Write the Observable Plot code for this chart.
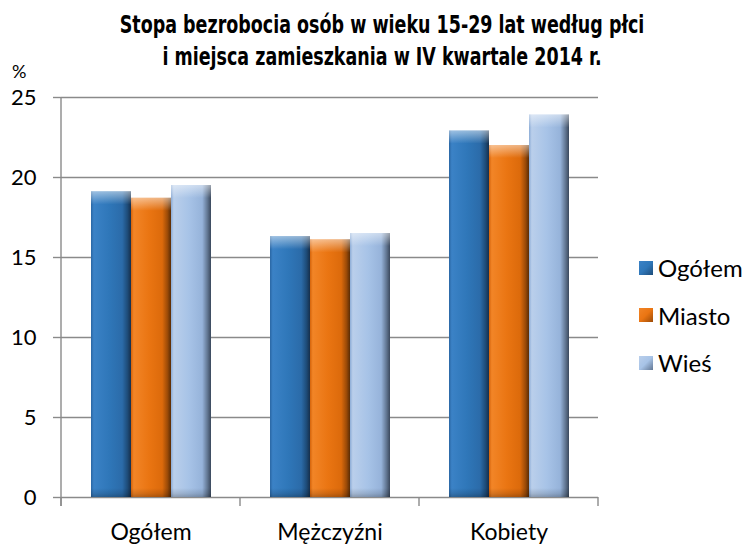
<!DOCTYPE html>
<html>
<head>
<meta charset="utf-8">
<script src="https://cdn.jsdelivr.net/npm/d3@7"></script>
<script src="https://cdn.jsdelivr.net/npm/@observablehq/plot@0.6"></script>
<style>
  html, body { margin: 0; padding: 0; background: #fff; }
  #wrap { position: relative; width: 746px; height: 545px; overflow: hidden; font-family: Lato, "Open Sans", sans-serif; }
  #title { position: absolute; left: 9px; top: 9px; width: 746px; text-align: center;
    font-family: "DejaVu Sans Condensed", "Liberation Sans Narrow", sans-serif;
    font-weight: bold; font-size: 24px; line-height: 32px; color: #000;
    transform: scaleX(0.81); transform-origin: 373px 0; }
  #unit { position: absolute; left: 12px; top: 60px; font-size: 18px; color: #000; }
  #chart { position: absolute; left: 0; top: 62px; }
  #legend { position: absolute; left: 639px; top: 244px; font-size: 24px; color: #000; }
  .li { display: flex; align-items: center; height: 47.5px; }
  .sw { width: 14px; height: 14px; margin-right: 5px; }
</style>
</head>
<body>
<div id="wrap">
  <div id="title">Stopa bezrobocia osób w wieku 15-29 lat według płci<br>i miejsca zamieszkania w IV kwartale 2014 r.</div>
  <div id="unit">%</div>
  <div id="chart"></div>
  <div id="legend"></div>
</div>
<script>
const categories = ["Ogółem", "Mężczyźni", "Kobiety"];
const series = ["Ogółem", "Miasto", "Wieś"];
const ogolem = [19.1, 16.3, 22.9];
const miasto = [18.7, 16.1, 22.0];
const wies = [19.5, 16.5, 23.9];
const yTicks = [0, 5, 10, 15, 20, 25];

const seriesValues = [ogolem, miasto, wies];
const data = [];
categories.forEach((c, i) => {
  series.forEach((s, j) => data.push({category: c, series: s, value: seriesValues[j][i]}));
});

const gradStops = [
  // Ogółem (blue)
  [["0%", "#2A66A3"], ["7%", "#3B82C6"], ["45%", "#2F77B9"], ["78%", "#2B6BA9"], ["91%", "#1E4C79"], ["100%", "#162F4C"]],
  // Miasto (orange)
  [["0%", "#D4630A"], ["7%", "#F28527"], ["45%", "#EA7512"], ["78%", "#DC6A0B"], ["91%", "#9C4B08"], ["100%", "#5A2C05"]],
  // Wieś (light blue)
  [["0%", "#8CACD6"], ["7%", "#BACFEB"], ["45%", "#A7C3E7"], ["78%", "#96B3DA"], ["91%", "#627793"], ["100%", "#3A485C"]]
];
const gradIds = ["gOg", "gMi", "gWi"];

const chart = Plot.plot({
  width: 746,
  height: 483,
  marginTop: 35,
  marginBottom: 48,
  marginLeft: 61,
  marginRight: 148,
  style: {fontFamily: "Lato, 'Open Sans', sans-serif", fontSize: "22px", color: "#000", background: "transparent"},
  fx: {domain: categories, padding: 0, label: null},
  x: {domain: series, paddingInner: 0, paddingOuter: 0.7375, axis: null},
  y: {domain: [0, 25], label: null},
  color: {domain: series, range: gradIds.map(id => `url(#${id})`)},
  marks: [
    Plot.gridY(yTicks, {stroke: "#8a8a8a", strokeOpacity: 1, strokeWidth: 1.4}),
    Plot.axisY(yTicks, {tickSize: 8, tickPadding: 17, stroke: "#8a8a8a", strokeWidth: 1.4, fill: "#000", fontSize: 22, label: null}),
    Plot.axisFx({anchor: "bottom", tickSize: 0, tickPadding: 26, fontSize: 23, fill: "#000", label: null}),
    Plot.barY(data, {fx: "category", x: "series", y: "value", fill: "series"}),
    // top bevel highlight (cap at bar top)
    Plot.barY(data, {fx: "category", x: "series", y1: "value", y2: "value", insetBottom: -13, fill: "url(#capTop)"}),
    // bottom bevel shade
    Plot.barY(data, {fx: "category", x: "series", y1: 0, y2: 0, insetTop: -9, fill: "url(#capBot)"})
  ]
});

document.getElementById("chart").appendChild(chart);

// gradients
const svg = d3.select(chart);
const defs = svg.insert("defs", ":first-child");
gradIds.forEach((id, i) => {
  const g = defs.append("linearGradient").attr("id", id).attr("x1", "0").attr("x2", "1").attr("y1", "0").attr("y2", "0");
  gradStops[i].forEach(([o, c]) => g.append("stop").attr("offset", o).attr("stop-color", c));
});
const ct = defs.append("linearGradient").attr("id", "capTop").attr("x1", "0").attr("x2", "0").attr("y1", "0").attr("y2", "1");
[["0%", "#ffffff", 0.5], ["60%", "#ffffff", 0.2], ["100%", "#ffffff", 0]]
  .forEach(([o, c, a]) => ct.append("stop").attr("offset", o).attr("stop-color", c).attr("stop-opacity", a));
const cb = defs.append("linearGradient").attr("id", "capBot").attr("x1", "0").attr("x2", "0").attr("y1", "0").attr("y2", "1");
[["0%", "#000000", 0], ["60%", "#000000", 0.12], ["100%", "#000000", 0.25]]
  .forEach(([o, c, a]) => cb.append("stop").attr("offset", o).attr("stop-color", c).attr("stop-opacity", a));

// axis line and category boundary ticks, positioned with Plot's scales
const fx = chart.scale("fx");
const y = chart.scale("y");
const y0 = y.apply(0), yTop = y.apply(25);
const bounds = categories.map(c => fx.apply(c)).concat([fx.apply(categories[categories.length - 1]) + fx.bandwidth]);
const g = svg.append("g").attr("stroke", "#8a8a8a").attr("stroke-width", 1.4);
g.append("line").attr("x1", bounds[0]).attr("x2", bounds[0]).attr("y1", yTop).attr("y2", y0 + 9);
bounds.forEach(b => g.append("line").attr("x1", b).attr("x2", b).attr("y1", y0).attr("y2", y0 + 9));

// legend
const legend = d3.select("#legend");
series.forEach((s, i) => {
  const row = legend.append("div").attr("class", "li");
  const st = gradStops[i];
  row.append("div").attr("class", "sw")
    .style("background", `linear-gradient(135deg, ${st[1][1]} 0%, ${st[2][1]} 50%, ${st[4][1]} 100%)`);
  row.append("span").text(s);
});
</script>
</body>
</html>
